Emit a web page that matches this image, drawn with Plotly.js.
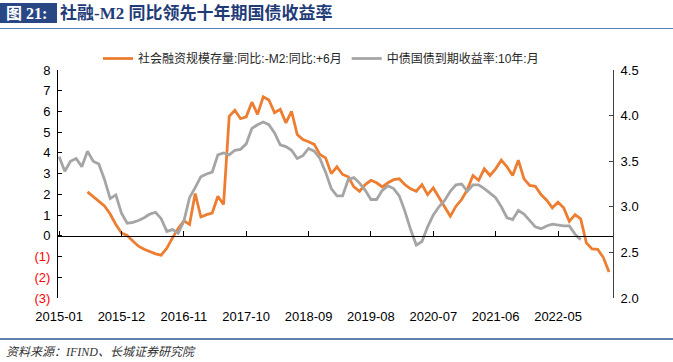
<!DOCTYPE html>
<html>
<head>
<meta charset="utf-8">
<script src="https://cdn.plot.ly/plotly-3.0.1.min.js"></script>
<style>
  html, body { margin: 0; padding: 0; background: #fff; }
  #chart { width: 673px; height: 362px; }
</style>
</head>
<body>
<div id="chart"></div>
<script>
// ---- categories (months) ----
const months = [
  '2015-01','2015-02','2015-03','2015-04','2015-05','2015-06','2015-07','2015-08','2015-09','2015-10','2015-11','2015-12',
  '2016-01','2016-02','2016-03','2016-04','2016-05','2016-06','2016-07','2016-08','2016-09','2016-10','2016-11','2016-12',
  '2017-01','2017-02','2017-03','2017-04','2017-05','2017-06','2017-07','2017-08','2017-09','2017-10','2017-11','2017-12',
  '2018-01','2018-02','2018-03','2018-04','2018-05','2018-06','2018-07','2018-08','2018-09','2018-10','2018-11','2018-12',
  '2019-01','2019-02','2019-03','2019-04','2019-05','2019-06','2019-07','2019-08','2019-09','2019-10','2019-11','2019-12',
  '2020-01','2020-02','2020-03','2020-04','2020-05','2020-06','2020-07','2020-08','2020-09','2020-10','2020-11','2020-12',
  '2021-01','2021-02','2021-03','2021-04','2021-05','2021-06','2021-07','2021-08','2021-09','2021-10','2021-11','2021-12',
  '2022-01','2022-02','2022-03','2022-04','2022-05','2022-06','2022-07','2022-08','2022-09','2022-10','2022-11','2022-12',
  '2023-01','2023-02'
];

// Tick labels on the x axis
const xTickLabels = ['2015-01','2015-12','2016-11','2017-10','2018-09','2019-08','2020-07','2021-06','2022-05'];

// Series 1: 社会融资规模存量同比 - M2同比 (+6月), left axis, 2015-06 .. 2023-02
const sfMonths = months.slice(5, 98);
const sfMinusM2 = [
  2.12, 1.88, 1.64, 1.44, 1.05, 0.55, 0.14, 0.02, -0.25, -0.50, -0.65, -0.77,
  -0.87, -0.93, -0.60, -0.10, 0.35, 0.72, 0.55, 2.04, 0.91, 1.02, 1.10, 1.91,
  1.51, 5.77, 6.06, 5.65, 5.74, 6.45, 5.86, 6.71, 6.55, 5.94, 6.10, 5.45,
  6.01, 4.89, 4.65, 4.54, 4.41, 3.92, 3.76, 3.00, 3.33, 2.96, 2.85, 2.36,
  2.15, 2.47, 2.68, 2.56, 2.36, 2.56, 2.71, 2.75, 2.47, 2.27, 2.15, 2.47,
  1.99, 2.31, 1.83, 1.35, 0.94, 1.43, 1.75, 2.23, 2.91, 2.68, 3.23, 2.91,
  3.23, 3.65, 3.33, 2.91, 3.65, 2.75, 2.43, 2.39, 1.99, 1.72, 1.35, 1.62,
  1.35, 0.70, 1.02, 0.82, -0.34, -0.63, -0.65, -1.05, -1.75
];

// Series 2: 中债国债到期收益率:10年 (monthly), right axis, 2015-01 .. 2022-09
const bondMonths = months.slice(0, 93);
const bondYield10y = [
  3.55, 3.39, 3.50, 3.53, 3.44, 3.61, 3.50, 3.47, 3.30, 3.09, 3.13, 2.93,
  2.82, 2.83, 2.85, 2.88, 2.92, 2.94, 2.87, 2.73, 2.75, 2.71, 2.84, 3.10,
  3.21, 3.33, 3.36, 3.38, 3.57, 3.59, 3.57, 3.62, 3.63, 3.69, 3.86, 3.90,
  3.93, 3.90, 3.81, 3.68, 3.66, 3.62, 3.53, 3.56, 3.64, 3.61, 3.53, 3.38,
  3.20, 3.12, 3.12, 3.30, 3.32, 3.26, 3.18, 3.08, 3.08, 3.18, 3.23, 3.20,
  3.12, 2.95, 2.75, 2.58, 2.62, 2.78, 2.91, 3.00, 3.07, 3.17, 3.24, 3.25,
  3.17, 3.24, 3.24, 3.20, 3.15, 3.10, 3.00, 2.88, 2.86, 2.96, 2.92, 2.85,
  2.78, 2.76, 2.79, 2.81, 2.80, 2.79, 2.79, 2.70, 2.64
];

// Axis ticks
const leftTickVals = [-3, -2, -1, 0, 1, 2, 3, 4, 5, 6, 7, 8];
const leftTickText = ['(3)', '(2)', '(1)', '0', '1', '2', '3', '4', '5', '6', '7', '8'];
const rightTickVals = [2.0, 2.5, 3.0, 3.5, 4.0, 4.5];
const rightTickText = ['2.0', '2.5', '3.0', '3.5', '4.0', '4.5'];

const seriesNames = ['社会融资规模存量:同比:-M2:同比:+6月', '中债国债到期收益率:10年:月'];

// ---- layout helpers (pixel -> paper) ----
const W = 673, H = 362;
const L = 58, R = 613, T = 70, B = 298;
const px = x => (x - L) / (R - L);
const py = y => (B - y) / (B - T);

const leftText = leftTickText.map((t, i) => leftTickVals[i] < 0 ? '<span style="color:#FF0000">' + t + '</span>' : t);
const xRange = [-0.2, months.length - 0.3];

const traces = [
  {
    x: sfMonths, y: sfMinusM2, name: seriesNames[0], type: 'scatter', mode: 'lines',
    line: { color: '#ED7D31', width: 2.8 }, xaxis: 'x', yaxis: 'y', hoverinfo: 'skip'
  },
  {
    x: bondMonths, y: bondYield10y, name: seriesNames[1], type: 'scatter', mode: 'lines',
    line: { color: '#A5A5A5', width: 2.8 }, xaxis: 'x2', yaxis: 'y2', hoverinfo: 'skip'
  }
];

const font = 'Liberation Sans, Arial, Noto Sans CJK SC, sans-serif';

const layout = {
  width: W, height: H, autosize: false,
  margin: { l: L, r: W - R, t: T, b: H - B, pad: 0 },
  paper_bgcolor: '#fff', plot_bgcolor: '#fff',
  font: { family: font, size: 13, color: '#000' },
  showlegend: true,
  legend: {
    orientation: 'h', x: px(98), xanchor: 'left', y: py(44), yanchor: 'top',
    font: { family: font, size: 12, color: '#262626' }, bgcolor: 'rgba(0,0,0,0)',
    borderwidth: 0, itemwidth: 30, tracegroupgap: 0
  },
  xaxis: {
    type: 'category', categoryorder: 'array', categoryarray: months, range: xRange,
    showline: false, ticks: '', tickmode: 'array', tickvals: xTickLabels, ticktext: xTickLabels,
    showgrid: false, zeroline: false, tickfont: { size: 13, color: '#000' }, ticklabelstandoff: 9,
    domain: [0, 1]
  },
  xaxis2: {
    type: 'category', categoryorder: 'array', categoryarray: months, range: xRange,
    overlaying: 'x', anchor: 'free', position: 3 / 11, side: 'bottom',
    showline: true, linecolor: '#000', linewidth: 1,
    ticks: 'inside', ticklen: 5, tickcolor: '#000', tickwidth: 1,
    tickmode: 'array', tickvals: xTickLabels, showticklabels: false,
    showgrid: false, zeroline: false
  },
  yaxis: {
    range: [-3, 8], tickmode: 'array', tickvals: leftTickVals, ticktext: leftText,
    showline: true, linecolor: '#000', linewidth: 1, ticks: 'inside', ticklen: 4, tickcolor: '#000',
    showgrid: false, zeroline: false, tickfont: { size: 13, color: '#000' }, ticklabelstandoff: 4
  },
  yaxis2: {
    range: [2.0, 4.5], overlaying: 'y', side: 'right', anchor: 'x',
    tickmode: 'array', tickvals: rightTickVals, ticktext: rightTickText,
    showline: true, linecolor: '#404040', linewidth: 1, ticks: 'inside', ticklen: 4, tickcolor: '#404040',
    showgrid: false, zeroline: false, tickfont: { size: 13, color: '#000' }, ticklabelstandoff: 4
  },
  shapes: [
    { type: 'rect', xref: 'paper', yref: 'paper', x0: px(0), x1: px(57), y0: py(23), y1: py(3),
      fillcolor: '#2A4785', line: { width: 0 } },
    { type: 'line', xref: 'paper', yref: 'paper', x0: px(0), x1: px(673), y0: py(28.5), y1: py(28.5),
      line: { color: '#5B7DB8', width: 1 } },
    { type: 'line', xref: 'paper', yref: 'paper', x0: px(0), x1: px(673), y0: py(339), y1: py(339),
      line: { color: '#2F5597', width: 1.5 } }
  ],
  annotations: [
    { text: '<b>图 21:</b>', xref: 'paper', yref: 'paper', x: px(4), y: py(13), xanchor: 'left', yanchor: 'middle',
      showarrow: false, font: { family: 'Liberation Serif, Noto Sans CJK SC, serif', size: 16, color: '#fff' } },
    { text: '<b>社融-M2 同比领先十年期国债收益率</b>', xref: 'paper', yref: 'paper', x: px(58), y: py(13),
      xanchor: 'left', yanchor: 'middle', showarrow: false,
      font: { family: 'Liberation Serif, Noto Sans CJK SC, serif', size: 17, color: '#1F3C78' } },
    { text: '<i>资料来源：IFIND、长城证券研究院</i>', xref: 'paper', yref: 'paper', x: px(4), y: py(352),
      xanchor: 'left', yanchor: 'middle', showarrow: false,
      font: { family: 'Liberation Serif, Noto Sans CJK SC, serif', size: 12, color: '#333' } }
  ]
};

Plotly.newPlot('chart', traces, layout, { displayModeBar: false, staticPlot: true });
</script>
</body>
</html>
